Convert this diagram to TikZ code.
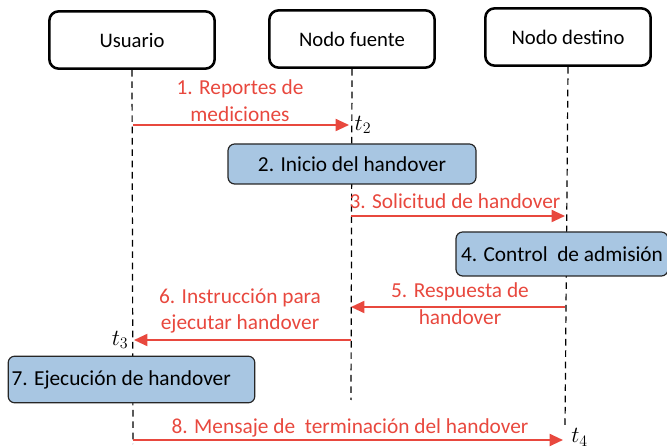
\documentclass[tikz,border=0pt]{standalone}
\usepackage{fontspec}
\setmainfont{Carlito}
\usepackage{tikz}
\usetikzlibrary{arrows.meta,positioning,calc}
\definecolor{msgred}{RGB}{232,72,62}
\definecolor{actblue}{RGB}{168,198,226}

\begin{document}
\begin{tikzpicture}[x=0.75pt, y=-0.75pt,
  actor/.style={draw, line width=1.9pt, rounded corners=7pt, minimum width=124pt,
    minimum height=43pt, font=\fontsize{15.5}{18}\selectfont},
  action/.style={draw=black!85, fill=actblue, line width=0.9pt, rounded corners=5pt,
    inner sep=0pt, font=\fontsize{16}{18}\selectfont},
  lifeline/.style={dashed, dash pattern=on 5pt off 3.5pt, line width=0.9pt},
  msg/.style={draw=msgred, line width=1.4pt, -{Triangle[length=10pt,width=9pt]}},
  msglabel/.style={text=msgred, align=center, inner sep=0pt, font=\fontsize{16}{20}\selectfont},
  tmark/.style={inner sep=0pt, font=\fontsize{18}{20}\selectfont}]
  \useasboundingbox (0,0) rectangle (667,448);

  % Actors
  \node[actor] (user) at (132,40) {Usuario};
  \node[actor] (src) at (352,39) {Nodo fuente};
  \node[actor] (dst) at (568,37) {Nodo destino};

  % Lifeline ends
  \coordinate (userEnd) at (133,444);
  \coordinate (srcEnd) at (351,400);
  \coordinate (dstEnd) at (565,428);

  % Lifelines
  \draw[lifeline] (user.south) -- (userEnd);
  \draw[lifeline] (src.south) -- (srcEnd);
  \draw[lifeline] (dst.south) -- (dstEnd);

  % Message end points on the lifelines
  \coordinate (u1) at (133,125);  \coordinate (s1) at (349,125);
  \coordinate (s3) at (351,216);  \coordinate (d3) at (565,216);
  \coordinate (d5) at (565,307);  \coordinate (s5) at (351,307);
  \coordinate (s6) at (351,340);  \coordinate (u6) at (134,340);
  \coordinate (u8) at (133,440);  \coordinate (d8) at (563,440);

  % Actions
  \node[action, minimum width=186pt, minimum height=30pt] (init) at (352,164) {2. Inicio del handover};
  \node[action, minimum width=159pt, minimum height=33pt] (adm) at (562,254) {4. Control\ \ de admisión};
  \node[action, minimum width=185pt, minimum height=35pt, text width=180pt, align=flush left] (exec) at (131.5,379.5) {7. Ejecución de handover};

  % Messages
  \draw[msg] (u1) -- (s1);
  \node[msglabel] (m1) at (240,101) {1. Reportes de\\mediciones};
  \draw[msg] (s3) -- (d3);
  \node[msglabel] (m3) at (455,201) {3. Solicitud de handover};
  \draw[msg] (d5) -- (s5);
  \node[msglabel] (m5) at (460,304) {5. Respuesta de\\handover};
  \draw[msg] (s6) -- (u6);
  \node[msglabel] (m6) at (240,311) {6. Instrucción para\\ejecutar handover};
  \draw[msg] (u8) -- (d8);
  \node[msglabel] (m8) at (350,428) {8. Mensaje de\ \ terminación del handover};

  % Time marks
  \node[tmark, right=4pt of s1] (t2) {$t_2$};
  \node[tmark, left=4pt of u6] (t3) {$t_3$};
  \node[tmark, right=6pt of d8, yshift=2pt] (t4) {$t_4$};
\end{tikzpicture}
\end{document}
